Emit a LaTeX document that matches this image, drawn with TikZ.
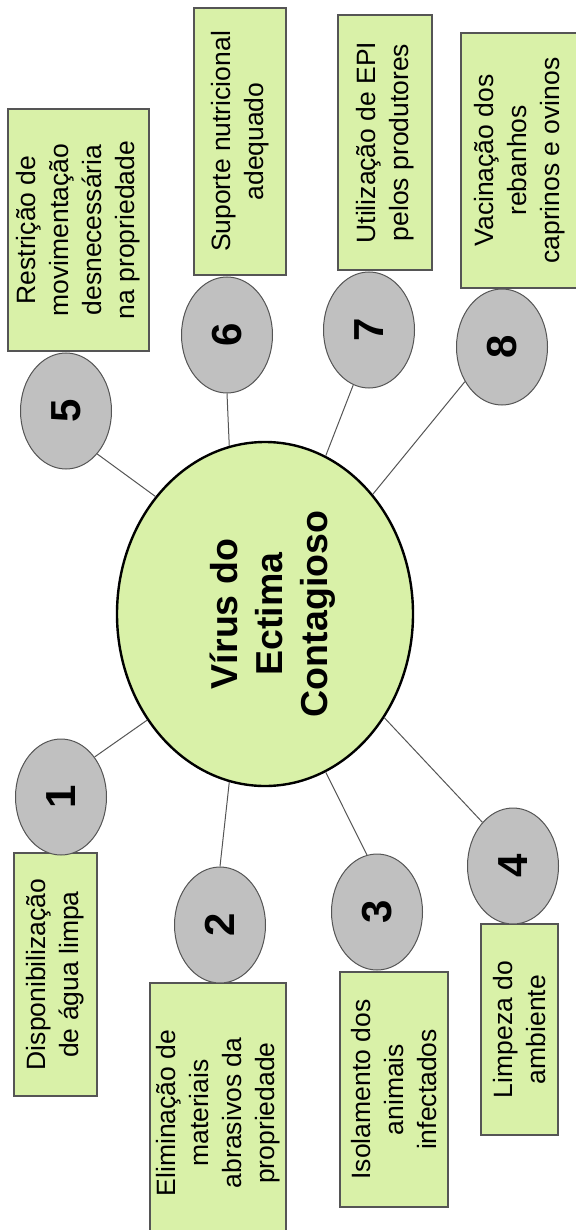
\documentclass[tikz,border=0pt]{standalone}
\usepackage{fontspec}
\setmainfont{Liberation Sans}
\usepackage{graphicx}
\usetikzlibrary{shapes.geometric}
\definecolor{boxgreen}{RGB}{217,241,168}
\definecolor{bubgray}{RGB}{192,192,192}
\definecolor{edgegray}{RGB}{85,85,85}
\begin{document}
\begin{tikzpicture}[x=1pt,y=-1pt,
  box/.style={draw=edgegray, line width=1.1pt, fill=boxgreen, rectangle, rotate=90, inner sep=0pt, align=center, font=\fontsize{26.5}{33}\selectfont},
  bubble/.style={draw=edgegray, line width=1pt, fill=bubgray, ellipse, inner sep=0pt, minimum width=91pt, minimum height=116pt, font=\fontsize{42}{48}\selectfont\bfseries},
  hub/.style={draw=black, line width=2.4pt, fill=boxgreen, ellipse, inner sep=0pt, minimum width=296pt, minimum height=344pt, font=\fontsize{37.5}{45}\selectfont\bfseries},
  link/.style={draw=edgegray, line width=1pt}]
\useasboundingbox (0,0) rectangle (575,1230);
% boxes
\node[box, minimum width=243pt, minimum height=83pt] (b1) at (55.5,974.5) {Disponibilização\\de água limpa};
\node[box, minimum width=260pt, minimum height=136pt] (b2) at (218,1113) {Eliminação de\\materiais\\abrasivos da\\propriedade};
\node[box, minimum width=235pt, minimum height=108pt] (b3) at (394,1089.5) {Isolamento dos\\animais\\infectados};
\node[box, minimum width=211pt, minimum height=77pt] (b4) at (519.5,1029.5) {Limpeza do\\ambiente};
\node[box, minimum width=242pt, minimum height=141pt] (b5) at (78.5,230) {Restrição de\\movimentação\\desnecessária\\na propriedade};
\node[box, minimum width=267pt, minimum height=92pt] (b6) at (240,141.5) {Suporte nutricional\\adequado};
\node[box, minimum width=255pt, minimum height=94pt] (b7) at (385,142.5) {Utilização de EPI\\pelos produtores};
\node[box, minimum width=255pt, minimum height=118pt] (b8) at (520,160.5) {Vacinação dos\\rebanhos\\caprinos e ovinos};
% hub
\node[hub] (hub) at (265,614) {\rotatebox{90}{\raisebox{-8pt}[\height][\depth]{\begin{tabular}{@{}c@{}}Vírus do\\Ectima\\Contagioso\end{tabular}}}};
% bubbles
\node[bubble] (e1) at (61,797) {\rotatebox{90}{1}};
\node[bubble] (e2) at (220,925) {\rotatebox{90}{2}};
\node[bubble] (e3) at (377,912) {\rotatebox{90}{3}};
\node[bubble] (e4) at (513,866) {\rotatebox{90}{4}};
\node[bubble] (e5) at (66,411) {\rotatebox{90}{5}};
\node[bubble] (e6) at (227,335) {\rotatebox{90}{6}};
\node[bubble] (e7) at (369,330) {\rotatebox{90}{7}};
\node[bubble] (e8) at (502,347) {\rotatebox{90}{8}};
% connectors
\draw[link] (e1.50) -- (hub.222);
\draw[link] (e2.90) -- (hub.258);
\draw[link] (e3.100) -- (hub.291);
\draw[link] (e4.125) -- (hub.319);
\draw[link] (e5.306) -- (hub.133);
\draw[link] (e6.270) -- (hub.102);
\draw[link] (e7.254) -- (hub.69);
\draw[link] (e8.223) -- (hub.48);
\end{tikzpicture}
\end{document}
